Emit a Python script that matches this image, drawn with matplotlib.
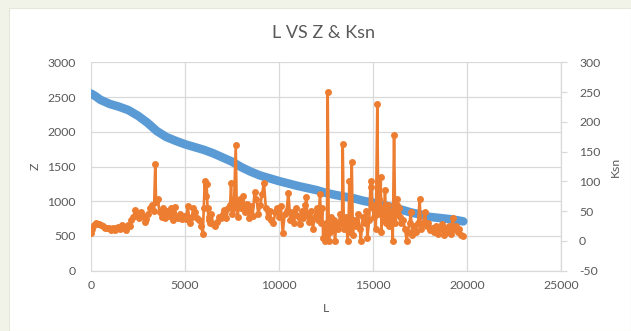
import matplotlib
matplotlib.use("Agg")
import matplotlib.pyplot as plt
from matplotlib.patches import Rectangle

# Elevation profile (Z) along the channel length (L)
L_z = [0, 250, 500, 1000, 1500, 2000, 2500, 3000, 3500, 4000, 4500, 5000, 5500,
       6000, 6500, 7000, 7500, 8000, 8500, 9000, 9500, 10000, 10500, 11000, 11500,
       12000, 12500, 13000, 13500, 14000, 14500, 15000, 15500, 16000, 16500, 17000,
       17500, 18000, 18500, 19000, 19500, 19800]
Z = [2550, 2510, 2460, 2400, 2360, 2310, 2230, 2130, 2010, 1925, 1870, 1820, 1780,
     1740, 1690, 1630, 1570, 1490, 1425, 1370, 1330, 1290, 1255, 1220, 1190,
     1160, 1120, 1090, 1065, 1040, 1005, 980, 950, 915, 880, 840,
     810, 775, 760, 745, 725, 710]

# Normalized steepness index (Ksn) along the channel length
L_k = [0, 60, 150, 250, 350, 450, 550, 650, 750, 850, 950, 1050, 1150, 1250, 1350,
       1450, 1550, 1650, 1750, 1850, 1950, 2050,
       2150, 2250, 2350, 2450, 2550, 2650, 2750, 2850, 2950, 3050, 3150, 3250, 3350,
       3420, 3460, 3550, 3650,
       3750, 3850, 3950, 4050, 4150, 4250, 4350, 4450, 4550, 4650, 4750, 4850, 4950,
       5050, 5150, 5250, 5350, 5450, 5550, 5650, 5750, 5850, 5950,
       6000, 6050, 6100, 6150, 6200, 6250, 6300, 6350, 6400, 6500, 6600, 6700, 6800,
       6900, 7000, 7100, 7200, 7300, 7400, 7450, 7500, 7600, 7700, 7750, 7800, 7900,
       8000, 8100, 8200, 8300, 8400, 8500, 8600, 8700, 8800, 8900, 9000, 9100, 9200,
       9300, 9400, 9500,
       9600, 9700, 9800, 9900, 10000, 10100, 10200, 10300, 10400, 10500, 10600, 10700,
       10800, 10900, 11000, 11100, 11200, 11300, 11400, 11450, 11500, 11600, 11700,
       11800, 11900, 12000, 12100, 12180, 12250, 12300, 12350, 12400,
       12450, 12500, 12550, 12590, 12650, 12700, 12750, 12800, 12900, 12980, 13050,
       13150, 13250, 13350, 13390, 13450, 13550, 13650, 13700, 13740, 13800, 13870,
       13930, 14000, 14100, 14200, 14300, 14350, 14450, 14550, 14650, 14700, 14800,
       14870, 14920, 14980,
       15050, 15100, 15150, 15230, 15280, 15330, 15410, 15450, 15500, 15560, 15640,
       15700, 15750, 15800, 15850, 15900, 15950, 16000, 16050, 16120, 16180, 16250,
       16300, 16350, 16400, 16450, 16500,
       16600, 16700, 16800, 16850, 16950, 17000, 17100, 17200, 17300, 17400, 17480,
       17550, 17650, 17760, 17850, 17950, 18050, 18150, 18250, 18350, 18450, 18550,
       18650, 18750, 18850, 18950, 19050, 19150, 19240, 19300, 19400, 19500, 19600,
       19700, 19800]
Ksn = [14, 20, 26, 30, 29, 28, 27, 25, 22, 21, 22, 19, 22, 18, 21,
       24, 20, 26, 22, 19, 27, 25,
       35, 40, 52, 45, 38, 48, 42, 32, 37, 45, 55, 60, 50,
       130, 65, 70, 48,
       40, 55, 38, 50, 42, 56, 35, 57, 40, 38, 45, 36, 42,
       36, 58, 30, 40, 55, 48, 38, 35, 25, 12,
       55, 100, 75, 95, 55, 40, 35, 30, 45, 28, 25, 32, 40,
       38, 45, 52, 38, 55, 60, 98, 45, 55, 161, 60, 40, 70,
       55, 75, 48, 62, 38, 58, 42, 82, 70, 45, 60, 78, 98,
       55, 40, 50,
       35, 30, 48, 55, 40, 58, 13, 45, 50, 81, 35, 48,
       30, 55, 42, 28, 50, 38, 60, 73, 45, 32, 50,
       20, 40, 55, 35, 78, 30, 55, 5, 28,
       0, 30, 10, 250, 0, 15, 40, 25, 35, 0, 30,
       20, 45, 28, 163, 20, 40, 0, 25, 101, 15, 133,
       10, 35, 25, 45, 20, 0, 40, 30, 50, 5, 35,
       100, 90, 55,
       40, 60, 20, 230, 45, 70, 108, 15, 55, 35, 85,
       30, 45, 60, 25, 50, 40, 35, 0, 178, 30, 60,
       70, 45, 55, 40, 30,
       35, 20, 0, 15, 30, 48, 10, 25, 15, 30, 71,
       20, 28, 48, 25, 30, 18, 22, 15, 25, 12, 20,
       28, 10, 22, 15, 25, 12, 38, 20, 25, 15, 20,
       10, 8]

x_ticks = [0, 5000, 10000, 15000, 20000, 25000]
z_ticks = [0, 500, 1000, 1500, 2000, 2500, 3000]
k_ticks = [-50, 0, 50, 100, 150, 200, 250, 300]

BLUE = "#5B9BD5"
ORANGE = "#ED7D31"
TEXT = "#595959"
GRID = "#D9D9D9"

plt.rcParams["font.family"] = ["Lato", "DejaVu Sans"]
plt.rcParams["axes.unicode_minus"] = False

W, H = 631, 331
fig = plt.figure(figsize=(W / 100, H / 100), dpi=100, facecolor="#F1F3E8")
# white chart panel inside the light frame
fig.patches.append(Rectangle((9 / W, 0), 1 - 9 / W, 1 - 8 / H,
                             transform=fig.transFigure, facecolor="white",
                             edgecolor="#E4E7DA", linewidth=0.8, zorder=-10))

left, right = 91 / W, 561 / W
bottom, top = 1 - 270.7 / H, 1 - 62.3 / H
ax = fig.add_axes([left, bottom, right - left, top - bottom])
ax.set_facecolor("none")

ax.plot(L_z, Z, color=BLUE, lw=6.2, solid_capstyle="round",
        solid_joinstyle="round", zorder=3)
ax.set_xlim(0, 25000)
ax.set_ylim(0, 3000)
ax.set_xticks(x_ticks)
ax.set_yticks(z_ticks)
ax.grid(True, color=GRID, lw=0.9)
ax.set_axisbelow(True)
for s in ["top", "right", "left"]:
    ax.spines[s].set_visible(False)
ax.spines["bottom"].set_color(GRID)
ax.spines["bottom"].set_linewidth(0.9)
ax.tick_params(axis="both", length=0, colors=TEXT, labelsize=8.8)
ax.tick_params(axis="y", pad=11)
ax.tick_params(axis="x", pad=7)
ax.set_xlabel("L", color=TEXT, fontsize=8.8, labelpad=8)
ax.set_ylabel("Z", color=TEXT, fontsize=8.8, labelpad=5)

ax2 = ax.twinx()
ax2.plot(L_k, Ksn, color=ORANGE, lw=1.9, marker="o", ms=5,
         markeredgewidth=0, zorder=4)
ax2.set_ylim(-50, 300)
ax2.set_yticks(k_ticks)
for s in ["top", "left", "bottom"]:
    ax2.spines[s].set_visible(False)
ax2.spines["right"].set_color(GRID)
ax2.spines["right"].set_linewidth(0.9)
ax2.tick_params(axis="y", length=4, width=0.9, colors=TEXT,
                labelsize=8.8, pad=9)
ax2.tick_params(axis="y", color=GRID)
ax2.set_ylabel("Ksn", color=TEXT, fontsize=8.8, labelpad=7)

fig.text(323 / W, 1 - 33 / H, "L VS Z & Ksn", ha="center", va="center",
         color=TEXT, fontsize=13)

fig.savefig("out.png", dpi=100, facecolor=fig.get_facecolor())
